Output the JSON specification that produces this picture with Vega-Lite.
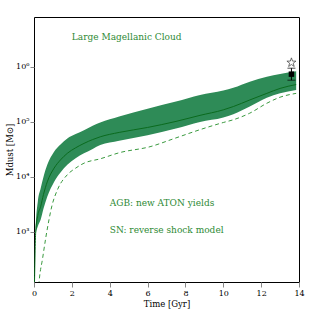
{
  "$schema": "https://vega.github.io/schema/vega-lite/v6.json",
  "width": 265,
  "height": 265,
  "autosize": {"type": "none"},
  "padding": {"left": 34, "top": 17, "right": 17, "bottom": 34},
  "background": "white",
  "config": {
    "view": {"stroke": "black", "strokeWidth": 1},
    "axis": {
      "domain": false,
      "grid": false,
      "labelOverlap": false,
      "labelFlush": false,
      "labelFont": "DejaVu Serif",
      "labelFontSize": 8,
      "labelColor": "black",
      "titleFont": "DejaVu Serif",
      "titleFontSize": 8.5,
      "titleFontWeight": "normal",
      "titleColor": "black"
    }
  },
  "datasets": {
    "band": [
      {"t": 0.02, "lo": 79.4, "mid": 89.1, "hi": 100},
      {"t": 0.09, "lo": 891, "mid": 1000, "hi": 1122},
      {"t": 0.2, "lo": 1259, "mid": 1995, "hi": 3548},
      {"t": 0.35, "lo": 1660, "mid": 2884, "hi": 6166},
      {"t": 0.5, "lo": 2630, "mid": 4786, "hi": 10000},
      {"t": 0.7, "lo": 4365, "mid": 8128, "hi": 16596},
      {"t": 1.06, "lo": 8128, "mid": 14454, "hi": 28840},
      {"t": 1.4, "lo": 12023, "mid": 20417, "hi": 38905},
      {"t": 1.76, "lo": 16596, "mid": 26915, "hi": 50119},
      {"t": 2.2, "lo": 21878, "mid": 33884, "hi": 60256},
      {"t": 2.64, "lo": 26915, "mid": 40738, "hi": 70795},
      {"t": 3.1, "lo": 32359, "mid": 47863, "hi": 85114},
      {"t": 3.5, "lo": 38019, "mid": 53703, "hi": 97724},
      {"t": 4.5, "lo": 45709, "mid": 64565, "hi": 125893},
      {"t": 6.0, "lo": 57544, "mid": 79433, "hi": 173780},
      {"t": 7.5, "lo": 75858, "mid": 102329, "hi": 234423},
      {"t": 8.77, "lo": 100000, "mid": 131826, "hi": 309030},
      {"t": 10.0, "lo": 120226, "mid": 165959, "hi": 371535},
      {"t": 10.53, "lo": 138038, "mid": 190546, "hi": 416869},
      {"t": 11.4, "lo": 190546, "mid": 251189, "hi": 537032},
      {"t": 12.3, "lo": 275423, "mid": 331131, "hi": 660693},
      {"t": 13.0, "lo": 331131, "mid": 407380, "hi": 741310},
      {"t": 13.85, "lo": 380189, "mid": 478630, "hi": 831764}
    ],
    "dash": [
      {"t": 0.22, "m": 79.4},
      {"t": 0.3, "m": 158},
      {"t": 0.44, "m": 309},
      {"t": 0.62, "m": 776},
      {"t": 0.79, "m": 1660},
      {"t": 0.95, "m": 3020},
      {"t": 1.23, "m": 5754},
      {"t": 1.76, "m": 10965},
      {"t": 2.2, "m": 14454},
      {"t": 2.64, "m": 17783},
      {"t": 3.5, "m": 21380},
      {"t": 4.5, "m": 27542},
      {"t": 6.13, "m": 35481},
      {"t": 7.5, "m": 51286},
      {"t": 8.77, "m": 72444},
      {"t": 10.0, "m": 97724},
      {"t": 10.53, "m": 109648},
      {"t": 11.4, "m": 144544},
      {"t": 12.3, "m": 218776},
      {"t": 13.0, "m": 281838},
      {"t": 13.85, "m": 331131}
    ],
    "obs": [
      {"t": 13.6, "star": 1200000, "sq": 740000, "lo": 575000, "hi": 950000}
    ],
    "labels": [
      {"t": 2.0, "m": 3500000, "txt": "Large Magellanic Cloud"},
      {"t": 4.0, "m": 3360, "txt": "AGB: new ATON yields"},
      {"t": 4.0, "m": 1090, "txt": "SN: reverse shock model"}
    ]
  },
  "layer": [
    {
      "data": {"name": "band"},
      "mark": {"type": "area", "clip": true, "interpolate": "monotone", "color": "#2e8b57", "opacity": 1},
      "encoding": {
        "x": {"field": "t", "type": "quantitative",
          "scale": {"domain": [0, 14], "nice": false, "zero": false},
          "axis": {"values": [0, 2, 4, 6, 8, 10, 12, 14], "tickSize": 5, "labelPadding": 2, "title": "Time [Gyr]", "titlePadding": 2}},
        "y": {"field": "lo", "type": "quantitative",
          "scale": {"type": "log", "domain": [123, 8100000], "nice": false},
          "axis": {"values": [1000, 10000, 100000, 1000000], "tickSize": 4, "labelPadding": 1,
            "labelExpr": "'10' + ['⁰','¹','²','³','⁴','⁵','⁶','⁷'][round(log(datum.value)/LN10)]",
            "title": "Mdust [M⊙]", "titlePadding": 1}},
        "y2": {"field": "hi"}
      }
    },
    {
      "data": {"name": "band"},
      "mark": {"type": "line", "clip": true, "interpolate": "monotone", "color": "#0a6b1e", "strokeWidth": 1},
      "encoding": {
        "x": {"field": "t", "type": "quantitative",
          "scale": {"domain": [0, 14], "nice": false, "zero": false},
          "axis": {"values": [0, 2, 4, 6, 8, 10, 12, 14], "tickSize": 5, "labelPadding": 2, "title": "Time [Gyr]", "titlePadding": 2}},
        "y": {"field": "mid", "type": "quantitative",
          "scale": {"type": "log", "domain": [123, 8100000], "nice": false},
          "axis": {"values": [1000, 10000, 100000, 1000000], "tickSize": 4, "labelPadding": 1,
            "labelExpr": "'10' + ['⁰','¹','²','³','⁴','⁵','⁶','⁷'][round(log(datum.value)/LN10)]",
            "title": "Mdust [M⊙]", "titlePadding": 1}}
      }
    },
    {
      "data": {"name": "dash"},
      "mark": {"type": "line", "clip": true, "interpolate": "monotone", "color": "#3a9a3f", "strokeWidth": 1, "strokeDash": [4, 3]},
      "encoding": {
        "x": {"field": "t", "type": "quantitative",
          "scale": {"domain": [0, 14], "nice": false, "zero": false},
          "axis": {"values": [0, 2, 4, 6, 8, 10, 12, 14], "tickSize": 5, "labelPadding": 2, "title": "Time [Gyr]", "titlePadding": 2}},
        "y": {"field": "m", "type": "quantitative",
          "scale": {"type": "log", "domain": [123, 8100000], "nice": false},
          "axis": {"values": [1000, 10000, 100000, 1000000], "tickSize": 4, "labelPadding": 1,
            "labelExpr": "'10' + ['⁰','¹','²','³','⁴','⁵','⁶','⁷'][round(log(datum.value)/LN10)]",
            "title": "Mdust [M⊙]", "titlePadding": 1}}
      }
    },
    {
      "data": {"name": "obs"},
      "mark": {"type": "point", "filled": false, "color": "black", "strokeWidth": 0.8, "size": 90,
        "shape": "M0,-1L0.235,-0.324L0.951,-0.309L0.38,0.124L0.588,0.809L0,0.4L-0.588,0.809L-0.38,0.124L-0.951,-0.309L-0.235,-0.324Z"},
      "encoding": {
        "x": {"field": "t", "type": "quantitative",
          "scale": {"domain": [0, 14], "nice": false, "zero": false},
          "axis": {"values": [0, 2, 4, 6, 8, 10, 12, 14], "tickSize": 5, "labelPadding": 2, "title": "Time [Gyr]", "titlePadding": 2}},
        "y": {"field": "star", "type": "quantitative",
          "scale": {"type": "log", "domain": [123, 8100000], "nice": false},
          "axis": {"values": [1000, 10000, 100000, 1000000], "tickSize": 4, "labelPadding": 1,
            "labelExpr": "'10' + ['⁰','¹','²','³','⁴','⁵','⁶','⁷'][round(log(datum.value)/LN10)]",
            "title": "Mdust [M⊙]", "titlePadding": 1}}
      }
    },
    {
      "data": {"name": "obs"},
      "mark": {"type": "errorbar", "ticks": {"size": 8, "color": "black"}, "color": "black", "strokeWidth": 1},
      "encoding": {
        "x": {"field": "t", "type": "quantitative",
          "scale": {"domain": [0, 14], "nice": false, "zero": false},
          "axis": {"values": [0, 2, 4, 6, 8, 10, 12, 14], "tickSize": 5, "labelPadding": 2, "title": "Time [Gyr]", "titlePadding": 2}},
        "y": {"field": "lo", "type": "quantitative",
          "scale": {"type": "log", "domain": [123, 8100000], "nice": false},
          "axis": {"values": [1000, 10000, 100000, 1000000], "tickSize": 4, "labelPadding": 1,
            "labelExpr": "'10' + ['⁰','¹','²','³','⁴','⁵','⁶','⁷'][round(log(datum.value)/LN10)]",
            "title": "Mdust [M⊙]", "titlePadding": 1}},
        "y2": {"field": "hi"}
      }
    },
    {
      "data": {"name": "obs"},
      "mark": {"type": "square", "filled": true, "color": "black", "opacity": 1, "size": 30},
      "encoding": {
        "x": {"field": "t", "type": "quantitative",
          "scale": {"domain": [0, 14], "nice": false, "zero": false},
          "axis": {"values": [0, 2, 4, 6, 8, 10, 12, 14], "tickSize": 5, "labelPadding": 2, "title": "Time [Gyr]", "titlePadding": 2}},
        "y": {"field": "sq", "type": "quantitative",
          "scale": {"type": "log", "domain": [123, 8100000], "nice": false},
          "axis": {"values": [1000, 10000, 100000, 1000000], "tickSize": 4, "labelPadding": 1,
            "labelExpr": "'10' + ['⁰','¹','²','³','⁴','⁵','⁶','⁷'][round(log(datum.value)/LN10)]",
            "title": "Mdust [M⊙]", "titlePadding": 1}}
      }
    },
    {
      "data": {"name": "labels"},
      "mark": {"type": "text", "align": "left", "baseline": "middle", "font": "DejaVu Serif", "fontSize": 9, "color": "#2d8a34"},
      "encoding": {
        "x": {"field": "t", "type": "quantitative",
          "scale": {"domain": [0, 14], "nice": false, "zero": false},
          "axis": {"values": [0, 2, 4, 6, 8, 10, 12, 14], "tickSize": 5, "labelPadding": 2, "title": "Time [Gyr]", "titlePadding": 2}},
        "y": {"field": "m", "type": "quantitative",
          "scale": {"type": "log", "domain": [123, 8100000], "nice": false},
          "axis": {"values": [1000, 10000, 100000, 1000000], "tickSize": 4, "labelPadding": 1,
            "labelExpr": "'10' + ['⁰','¹','²','³','⁴','⁵','⁶','⁷'][round(log(datum.value)/LN10)]",
            "title": "Mdust [M⊙]", "titlePadding": 1}},
        "text": {"field": "txt"}
      }
    }
  ]
}
